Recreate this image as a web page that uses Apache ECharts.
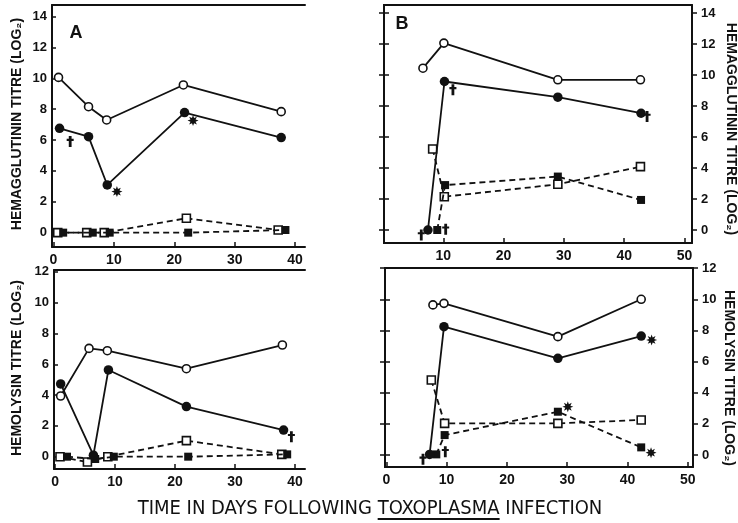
<!DOCTYPE html>
<html><head><meta charset="utf-8">
<script src="https://cdn.jsdelivr.net/npm/echarts@6/dist/echarts.min.js"></script>
<style>html,body{margin:0;padding:0;background:#fff}#c{width:738px;height:523px}</style>
</head><body><div id="c"></div>
<script>
// ---- tick labels ----
const xTicksLeft = [0, 10, 20, 30, 40];
const xTicksRight = [0, 10, 20, 30, 40, 50];
const yTicksTop = [0, 2, 4, 6, 8, 10, 12, 14];
const yTicksBottom = [0, 2, 4, 6, 8, 10, 12];

// ---- Panel A: hemagglutinin titre (day, log2) ----
const aOpenCircle = [[0.83, 10.06], [5.8, 8.16], [8.8, 7.30], [21.5, 9.57], [37.7, 7.84]];
const aFilledCircle = [[1.0, 6.76], [5.8, 6.22], [8.9, 3.09], [21.7, 7.78], [37.7, 6.16]];
const aOpenSquare = [[0.7, 0], [5.5, 0], [8.4, 0], [22.0, 0.93], [37.2, 0.17]];
const aFilledSquare = [[1.6, 0], [6.5, 0], [9.3, 0], [22.3, 0], [38.4, 0.17]];
const aDaggers = [[2.76, 5.9]];
const aAsterisks = [[10.5, 2.66], [23.1, 7.26]];

// ---- Panel B: hemagglutinin titre ----
const bOpenCircle = [[6.63, 10.45], [10.1, 12.07], [29.0, 9.70], [42.7, 9.70]];
const bFilledCircle = [[7.46, 0], [10.2, 9.59], [29.0, 8.58], [42.8, 7.54]];
const bOpenSquare = [[8.24, 5.23], [10.17, 2.15], [29.0, 2.95], [42.7, 4.09]];
const bFilledSquare = [[9.0, 0], [10.3, 2.9], [29.0, 3.45], [42.8, 1.94]];
const bDaggers = [[11.6, 9.05], [43.8, 7.33], [6.35, -0.32], [10.4, 0.05]];
const bAsterisks = [];

// ---- Panel C: hemolysin titre ----
const cOpenCircle = [[0.94, 3.94], [5.67, 7.03], [8.72, 6.88], [21.9, 5.71], [37.9, 7.25]];
const cFilledCircle = [[0.94, 4.72], [6.4, 0.1], [8.9, 5.63], [21.9, 3.25], [38.1, 1.73]];
const cOpenSquare = [[0.83, 0], [5.4, -0.35], [8.8, 0], [21.9, 1.04], [37.8, 0.15]];
const cFilledSquare = [[2.0, 0], [6.7, -0.15], [9.8, 0], [22.2, 0], [38.7, 0.15]];
const cDaggers = [[39.4, 1.3]];
const cAsterisks = [];

// ---- Panel D: hemolysin titre ----
const dOpenCircle = [[7.73, 9.64], [9.56, 9.74], [28.45, 7.60], [42.27, 10.0]];
const dFilledCircle = [[7.18, 0.04], [9.56, 8.24], [28.45, 6.21], [42.27, 7.64]];
const dOpenSquare = [[7.46, 4.82], [9.67, 2.03], [28.45, 2.03], [42.27, 2.25]];
const dFilledSquare = [[8.29, 0.04], [9.67, 1.28], [28.45, 2.78], [42.27, 0.49]];
const dDaggers = [[6.08, -0.28], [9.78, 0.21]];
const dAsterisks = [[44.0, 7.39], [30.1, 3.1], [43.9, 0.15]];

const black = '#111';
const FONT = '"Liberation Sans", Arial, sans-serif';

const grids = [
  {left: 52, top: 5, width: 253, height: 242},
  {left: 384, top: 5, width: 308, height: 238},
  {left: 54, top: 270, width: 251, height: 199},
  {left: 385, top: 268, width: 308, height: 199}
];
const ranges = [
  {x: [-0.25, 41.64], y: [-0.93, 14.75], xt: xTicksLeft, yt: yTicksTop, side: 'left'},
  {x: [0.17, 51.25], y: [-0.84, 14.53], xt: xTicksRight, yt: yTicksTop, side: 'right'},
  {x: [-0.17, 41.67], y: [-0.8, 12.12], xt: xTicksLeft, yt: yTicksBottom, side: 'left'},
  {x: [-0.22, 50.86], y: [-0.77, 12.01], xt: xTicksRight, yt: yTicksBottom, side: 'right'}
];

const axLine = {show: true, onZero: false, lineStyle: {color: black, width: 2}};
const labelStyle = {color: black, fontFamily: FONT, fontWeight: 'bold'};

const xAxes = [], yAxes = [], mainY = [];
ranges.forEach((r, g) => {
  xAxes.push({type: 'value', gridIndex: g, position: 'bottom', min: r.x[0], max: r.x[1],
    axisLine: axLine,
    axisTick: {show: true, inside: true, length: 5, customValues: r.xt, lineStyle: {color: black, width: 1.5}},
    axisLabel: Object.assign({show: true, customValues: r.xt, fontSize: 14, margin: 6}, labelStyle),
    splitLine: {show: false}});
  xAxes.push({type: 'value', gridIndex: g, position: 'top', min: r.x[0], max: r.x[1],
    axisLine: axLine, axisTick: {show: false}, axisLabel: {show: false}, splitLine: {show: false}});
  if (r.side === 'left') {
    mainY.push(yAxes.length);
    yAxes.push({type: 'value', gridIndex: g, position: 'left', min: r.y[0], max: r.y[1],
      axisLine: axLine,
      axisTick: {show: true, inside: true, length: 4, customValues: r.yt, lineStyle: {color: black, width: 1.5}},
      axisLabel: Object.assign({show: true, customValues: r.yt, fontSize: 13, margin: 5}, labelStyle),
      splitLine: {show: false}});
  } else {
    mainY.push(yAxes.length);
    yAxes.push({type: 'value', gridIndex: g, position: 'right', min: r.y[0], max: r.y[1],
      axisLine: axLine,
      axisTick: {show: true, inside: false, length: 5, customValues: r.yt, lineStyle: {color: black, width: 1.5}},
      axisLabel: Object.assign({show: true, customValues: r.yt, fontSize: 13, margin: 9}, labelStyle),
      splitLine: {show: false}});
    [true, false].forEach(ins => {
      yAxes.push({type: 'value', gridIndex: g, position: 'left', min: r.y[0], max: r.y[1],
        axisLine: axLine,
        axisTick: {show: true, inside: ins, length: 5, customValues: r.yt, lineStyle: {color: black, width: 1.5}},
        axisLabel: {show: false}, splitLine: {show: false}});
    });
  }
});

const kinds = {
  openCircle: {symbol: 'circle', symbolSize: 8, itemStyle: {color: '#fff', borderColor: black, borderWidth: 1.6, opacity: 1}, lineType: 'solid'},
  filledCircle: {symbol: 'circle', symbolSize: 9.5, itemStyle: {color: black, borderColor: black, borderWidth: 0, opacity: 1}, lineType: 'solid'},
  openSquare: {symbol: 'rect', symbolSize: 8, itemStyle: {color: '#fff', borderColor: black, borderWidth: 1.6, opacity: 1}, lineType: [6, 4]},
  filledSquare: {symbol: 'rect', symbolSize: 8, itemStyle: {color: black, borderColor: black, borderWidth: 0, opacity: 1}, lineType: [6, 4]}
};
const DAGGER = 'path://M3,0 L7,0 L7,4 L10,4 L10,7 L7,7 L7,16 L3,16 L3,7 L0,7 L0,4 L3,4 Z';
const STAR = 'path://M20,10 L14.62,11.91 L17.07,17.07 L11.91,14.62 L10,20 L8.09,14.62 L2.93,17.07 L5.38,11.91 L0,10 L5.38,8.09 L2.93,2.93 L8.09,5.38 L10,0 L11.91,5.38 L17.07,2.93 L14.62,8.09 Z';

const panels = [
  [aOpenCircle, aFilledCircle, aOpenSquare, aFilledSquare, aDaggers, aAsterisks],
  [bOpenCircle, bFilledCircle, bOpenSquare, bFilledSquare, bDaggers, bAsterisks],
  [cOpenCircle, cFilledCircle, cOpenSquare, cFilledSquare, cDaggers, cAsterisks],
  [dOpenCircle, dFilledCircle, dOpenSquare, dFilledSquare, dDaggers, dAsterisks]
];
const series = [];
panels.forEach((p, g) => {
  const xi = 2 * g, yi = mainY[g];
  const order = [['openSquare', p[2]], ['filledSquare', p[3]], ['openCircle', p[0]], ['filledCircle', p[1]]];
  order.forEach(([k, data]) => {
    const s = kinds[k];
    series.push({type: 'line', xAxisIndex: xi, yAxisIndex: yi, data: data,
      symbol: s.symbol, symbolSize: s.symbolSize, showAllSymbol: true,
      itemStyle: s.itemStyle, lineStyle: {color: black, width: 1.8, type: s.lineType, opacity: 1},
      z: k.startsWith('filled') ? 4 : 3, silent: true});
  });
  series.push({type: 'scatter', xAxisIndex: xi, yAxisIndex: yi, data: p[4], symbol: DAGGER,
    symbolSize: [7, 11], itemStyle: {color: black, opacity: 1}, silent: true, z: 5});
  series.push({type: 'scatter', xAxisIndex: xi, yAxisIndex: yi, data: p[5], symbol: STAR,
    symbolSize: 11, itemStyle: {color: black, opacity: 1}, silent: true, z: 5});
});

// bottom title with underlined TOXOPLASMA
const tFamily = '"Liberation Sans Narrow", "DejaVu Sans Condensed", "Liberation Sans", sans-serif';
const tSize = 20;
const ctx = document.createElement('canvas').getContext('2d');
ctx.font = 'normal ' + tSize + 'px ' + tFamily;
const pre = 'TIME IN DAYS FOLLOWING ', mid = 'TOXOPLASMA', post = ' INFECTION';
const W = ctx.measureText(pre + mid + post).width;
const tx0 = 370 - W / 2;
const u1 = tx0 + ctx.measureText(pre).width;
const u2 = u1 + ctx.measureText(mid).width;

const titleStyle = {fill: black, fontFamily: FONT, fontWeight: 'bold', fontSize: 14, align: 'center', verticalAlign: 'middle'};
const graphic = [
  {type: 'text', x: 17, y: 124, rotation: Math.PI / 2, style: Object.assign({text: 'HEMAGGLUTININ TITRE (LOG₂)'}, titleStyle)},
  {type: 'text', x: 17, y: 368, rotation: Math.PI / 2, style: Object.assign({text: 'HEMOLYSIN TITRE (LOG₂)'}, titleStyle)},
  {type: 'text', x: 731, y: 129, rotation: -Math.PI / 2, style: Object.assign({text: 'HEMAGGLUTININ TITRE (LOG₂)'}, titleStyle)},
  {type: 'text', x: 729, y: 378, rotation: -Math.PI / 2, style: Object.assign({text: 'HEMOLYSIN TITRE (LOG₂)'}, titleStyle)},
  {type: 'text', x: 76, y: 33, style: {text: 'A', fill: black, fontFamily: FONT, fontWeight: 'bold', fontSize: 18, align: 'center', verticalAlign: 'middle'}},
  {type: 'text', x: 402, y: 24, style: {text: 'B', fill: black, fontFamily: FONT, fontWeight: 'bold', fontSize: 18, align: 'center', verticalAlign: 'middle'}},
  {type: 'text', x: tx0, y: 509, style: {text: pre + mid + post, fill: black, fontFamily: tFamily, fontSize: tSize, align: 'left', verticalAlign: 'middle'}},
  {type: 'line', shape: {x1: u1, y1: 519, x2: u2, y2: 519}, style: {stroke: black, lineWidth: 1.8}}
];

const chart = echarts.init(document.getElementById('c'), null, {renderer: 'canvas'});
chart.setOption({
  animation: false,
  backgroundColor: '#fff',
  grid: grids,
  xAxis: xAxes,
  yAxis: yAxes,
  series: series,
  graphic: graphic
});
</script></body></html>
